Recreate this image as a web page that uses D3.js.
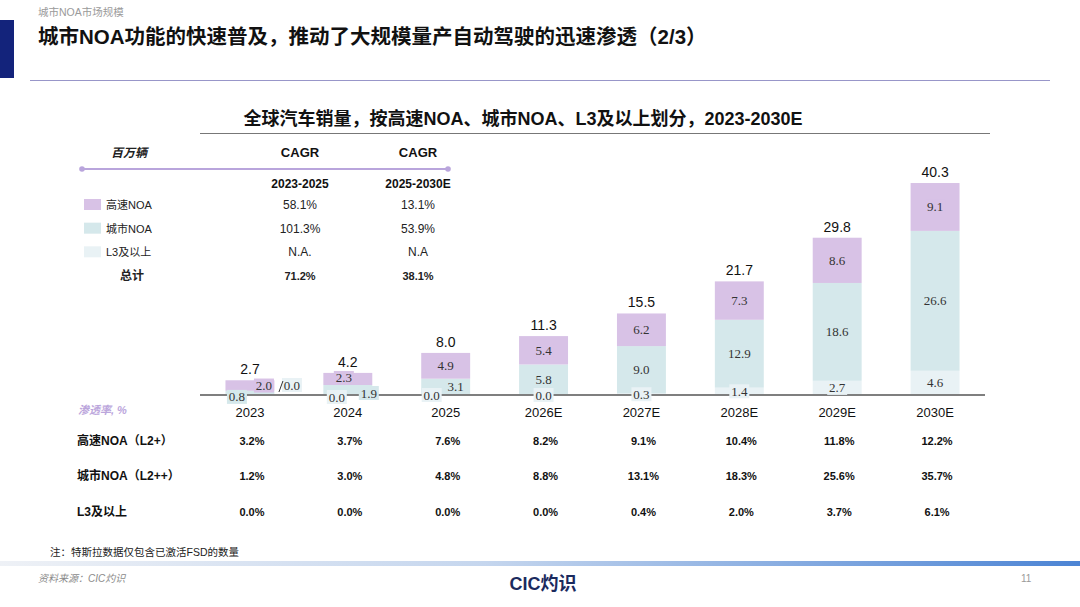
<!DOCTYPE html>
<html>
<head>
<meta charset="utf-8">
<script src="https://cdn.jsdelivr.net/npm/d3@7"></script>
<style>
  html, body { margin: 0; padding: 0; background: #fff; }
  svg { display: block; font-family: "Liberation Sans", Arial, "Noto Sans CJK SC", sans-serif; }
</style>
</head>
<body>
<div id="viz"></div>
<script>
// ---- data ----
const years = ['2023', '2024', '2025', '2026E', '2027E', '2028E', '2029E', '2030E'];
const highwayNOA = [2.0, 2.3, 4.9, 5.4, 6.2, 7.3, 8.6, 9.1];
const cityNOA = [0.8, 1.9, 3.1, 5.8, 9.0, 12.9, 18.6, 26.6];
const l3Plus = [0.0, 0.0, 0.0, 0.0, 0.3, 1.4, 2.7, 4.6];
const totals = [2.7, 4.2, 8.0, 11.3, 15.5, 21.7, 29.8, 40.3];

const seriesNames = ['高速NOA', '城市NOA', 'L3及以上'];
const cagr2325 = ['58.1%', '101.3%', 'N.A.'];
const cagr2530 = ['13.1%', '53.9%', 'N.A'];
const cagrTotal = ['71.2%', '38.1%'];

const penRowNames = ['高速NOA（L2+）', '城市NOA（L2++）', 'L3及以上'];
const penHighway = ['3.2%', '3.7%', '7.6%', '8.2%', '9.1%', '10.4%', '11.8%', '12.2%'];
const penCity = ['1.2%', '3.0%', '4.8%', '8.8%', '13.1%', '18.3%', '25.6%', '35.7%'];
const penL3 = ['0.0%', '0.0%', '0.0%', '0.0%', '0.4%', '2.0%', '3.7%', '6.1%'];

// ---- drawing ----
const width = 1080;
const height = 607;
const colors = { highway: '#d8c2e6', city: '#d5e8eb', l3: '#e9f2f5' };
const baseline = 395;

const svg = d3.select('#viz').append('svg')
  .attr('width', width)
  .attr('height', height)
  .attr('viewBox', `0 0 ${width} ${height}`);

// header
svg.append('text').attr('x', 38).attr('y', 16)
  .attr('font-size', 10.5).attr('fill', '#9a9a9a').text('城市NOA市场规模');
svg.append('rect').attr('x', 0).attr('y', 20).attr('width', 14).attr('height', 58).attr('fill', '#13237b');
svg.append('text').attr('x', 38).attr('y', 44)
  .attr('font-size', 20.5).attr('font-weight', 'bold').attr('fill', '#111')
  .text('城市NOA功能的快速普及，推动了大规模量产自动驾驶的迅速渗透（2/3）');
svg.append('line').attr('x1', 30).attr('x2', 1050).attr('y1', 80.5).attr('y2', 80.5)
  .attr('stroke', '#9896c9').attr('stroke-width', 1);

// chart subtitle
svg.append('text').attr('x', 523).attr('y', 125).attr('text-anchor', 'middle')
  .attr('font-size', 18).attr('font-weight', 'bold').attr('fill', '#111')
  .text('全球汽车销量，按高速NOA、城市NOA、L3及以上划分，2023-2030E');
svg.append('line').attr('x1', 200).attr('x2', 990).attr('y1', 133.5).attr('y2', 133.5)
  .attr('stroke', '#777').attr('stroke-width', 1.2);

// scales
const x = d3.scaleBand().domain(years).range([201, 984]).paddingInner(0.5).paddingOuter(0.25);
const y = d3.scaleLinear().domain([0, 45]).range([baseline, baseline - 45 * 5.26]);

const table = years.map((yr, i) => ({ year: yr, l3: l3Plus[i], city: cityNOA[i], highway: highwayNOA[i], total: totals[i] }));
const keys = ['l3', 'city', 'highway'];
const stacked = d3.stack().keys(keys)(table);

// bars
const layers = svg.append('g').selectAll('g')
  .data(stacked)
  .enter().append('g')
  .attr('fill', d => colors[d.key]);

layers.selectAll('rect')
  .data(d => d)
  .enter().append('rect')
  .attr('x', d => x(d.data.year))
  .attr('y', d => y(d[1]))
  .attr('width', x.bandwidth())
  .attr('height', d => y(d[0]) - y(d[1]));

// axis
const axis = svg.append('g')
  .attr('transform', `translate(0,${baseline})`)
  .call(d3.axisBottom(x).tickSize(0).tickPadding(13));
axis.select('.domain').attr('stroke', '#7f7f7f').attr('stroke-width', 2)
  .attr('d', 'M200,0H985');
axis.selectAll('text').attr('font-size', 13).attr('fill', '#111')
  .attr('font-family', '"Liberation Sans", Arial, sans-serif');

// segment labels; crowded small segments get nudged aside
const nudge = {
  '2023|l3': [42, -10], '2023|city': [-13, 4], '2023|highway': [14, 0],
  '2024|l3': [-11, 2], '2024|city': [21, 3], '2024|highway': [-4, -1],
  '2025|l3': [-14, 0], '2025|city': [10, 0]
};
const segLabels = [];
stacked.forEach(layer => {
  layer.forEach(d => {
    const k = d.data.year + '|' + layer.key;
    const off = nudge[k] || [0, 0];
    segLabels.push({
      text: d3.format('.1f')(d.data[layer.key]),
      cx: x(d.data.year) + x.bandwidth() / 2 + off[0],
      cy: (y(d[0]) + y(d[1])) / 2 + off[1],
      fill: colors[layer.key]
    });
  });
});

const lab = svg.append('g').selectAll('g').data(segLabels).enter().append('g');
lab.append('rect')
  .attr('x', d => d.cx - 10).attr('y', d => d.cy - 7)
  .attr('width', 20).attr('height', 14)
  .attr('fill', d => d.fill);
lab.append('text')
  .attr('x', d => d.cx).attr('y', d => d.cy + 4.5)
  .attr('text-anchor', 'middle')
  .attr('font-family', '"Liberation Serif", "Times New Roman", serif')
  .attr('font-size', 13).attr('fill', '#333')
  .text(d => d.text);

// leader mark for 2023 L3 label
svg.append('line')
  .attr('x1', x('2023') + x.bandwidth() / 2 + 29).attr('y1', baseline - 3)
  .attr('x2', x('2023') + x.bandwidth() / 2 + 33).attr('y2', baseline - 14)
  .attr('stroke', '#333').attr('stroke-width', 1);

// totals
svg.append('g').selectAll('text').data(table).enter().append('text')
  .attr('x', d => x(d.year) + x.bandwidth() / 2)
  .attr('y', d => y(d.l3 + d.city + d.highway) - 6)
  .attr('text-anchor', 'middle')
  .attr('font-size', 14).attr('fill', '#111')
  .text(d => d3.format('.1f')(d.total));

// CAGR legend block
const lg = svg.append('g');
lg.append('text').attr('x', 129).attr('y', 157).attr('text-anchor', 'middle')
  .attr('font-size', 12).attr('font-weight', 'bold').attr('font-style', 'italic').attr('fill', '#222')
  .text('百万辆');
[[300, 'CAGR', '2023-2025'], [418, 'CAGR', '2025-2030E']].forEach(c => {
  lg.append('text').attr('x', c[0]).attr('y', 157).attr('text-anchor', 'middle')
    .attr('font-size', 13).attr('font-weight', 'bold').attr('fill', '#111').text(c[1]);
  lg.append('text').attr('x', c[0]).attr('y', 188).attr('text-anchor', 'middle')
    .attr('font-size', 12).attr('font-weight', 'bold').attr('fill', '#111').text(c[2]);
});
lg.append('line').attr('x1', 82).attr('x2', 448).attr('y1', 169).attr('y2', 169)
  .attr('stroke', '#b9a5dc').attr('stroke-width', 2);
lg.selectAll('circle').data([82, 448]).enter().append('circle')
  .attr('cx', d => d).attr('cy', 169).attr('r', 2.8).attr('fill', '#b9a5dc');

const rowY = d3.scalePoint().domain(d3.range(4)).range([205, 276]);
const swatchColors = [colors.highway, colors.city, colors.l3];
seriesNames.forEach((name, i) => {
  lg.append('rect').attr('x', 84).attr('y', rowY(i) - 6).attr('width', 17).attr('height', 11)
    .attr('fill', swatchColors[i]);
  lg.append('text').attr('x', 106).attr('y', rowY(i) + 4)
    .attr('font-size', 11).attr('fill', '#222').text(name);
  lg.append('text').attr('x', 300).attr('y', rowY(i) + 4).attr('text-anchor', 'middle')
    .attr('font-size', 12).attr('fill', '#222').text(cagr2325[i]);
  lg.append('text').attr('x', 418).attr('y', rowY(i) + 4).attr('text-anchor', 'middle')
    .attr('font-size', 12).attr('fill', '#222').text(cagr2530[i]);
});
lg.append('text').attr('x', 132).attr('y', rowY(3) + 4).attr('text-anchor', 'middle')
  .attr('font-size', 12).attr('font-weight', 'bold').attr('fill', '#222').text('总计');
[300, 418].forEach((cx, i) => {
  lg.append('text').attr('x', cx).attr('y', rowY(3) + 4).attr('text-anchor', 'middle')
    .attr('font-size', 11).attr('font-weight', 'bold').attr('fill', '#222').text(cagrTotal[i]);
});

// penetration table
svg.append('text').attr('x', 78).attr('y', 414)
  .attr('font-size', 11).attr('font-style', 'italic').attr('font-weight', 'bold').attr('fill', '#bba6dc')
  .text('渗透率, %');
const penRows = [penHighway, penCity, penL3];
const penY = [441, 476, 512];
penRows.forEach((row, r) => {
  svg.append('text').attr('x', 77).attr('y', penY[r] + 4)
    .attr('font-size', 12).attr('font-weight', 'bold').attr('fill', '#111')
    .text(penRowNames[r]);
  svg.append('g').selectAll('text').data(row).enter().append('text')
    .attr('x', (d, i) => x(years[i]) + x.bandwidth() / 2 + 2)
    .attr('y', penY[r] + 4)
    .attr('text-anchor', 'middle')
    .attr('font-size', 11).attr('font-weight', 'bold').attr('fill', '#111')
    .text(d => d);
});

// footer
svg.append('text').attr('x', 50).attr('y', 556)
  .attr('font-size', 10.5).attr('fill', '#222').text('注：特斯拉数据仅包含已激活FSD的数量');
const grad = svg.append('defs').append('linearGradient').attr('id', 'footGrad');
grad.append('stop').attr('offset', '0%').attr('stop-color', '#eef1f6');
grad.append('stop').attr('offset', '45%').attr('stop-color', '#c5d6ee');
grad.append('stop').attr('offset', '100%').attr('stop-color', '#4c84d4');
svg.append('rect').attr('x', 0).attr('y', 561).attr('width', width).attr('height', 5).attr('fill', 'url(#footGrad)');
svg.append('text').attr('x', 38).attr('y', 582)
  .attr('font-size', 10).attr('font-style', 'italic').attr('fill', '#8a8a8a').text('资料来源：CIC灼识');
svg.append('text').attr('x', 543).attr('y', 590).attr('text-anchor', 'middle')
  .attr('font-size', 18).attr('font-weight', 'bold').attr('fill', '#1b2a5e').text('CIC灼识');
svg.append('text').attr('x', 1021).attr('y', 582)
  .attr('font-size', 10).attr('fill', '#9a9a9a').text('11');
</script>
</body>
</html>
